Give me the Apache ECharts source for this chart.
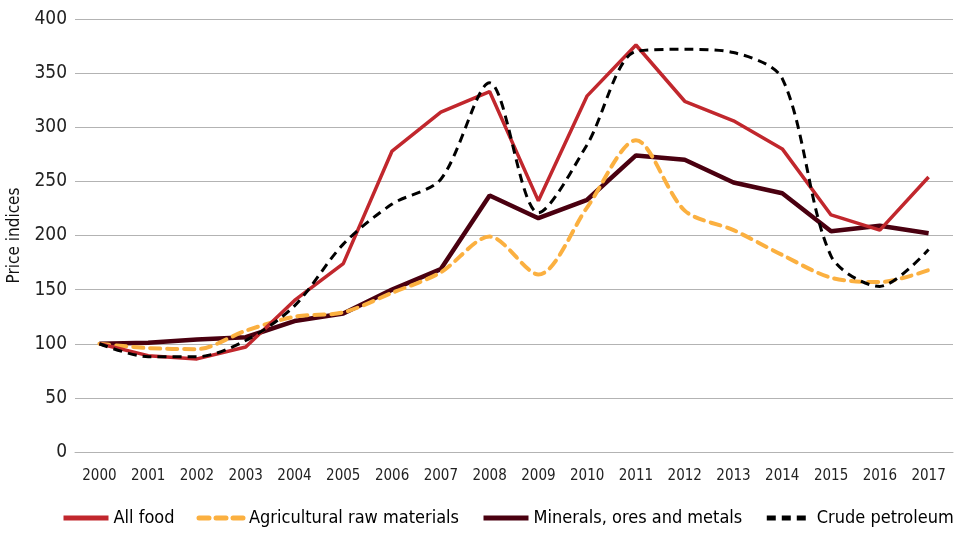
<!DOCTYPE html>
<html>
<head>
<meta charset="utf-8">
<script src="https://cdn.jsdelivr.net/npm/echarts@6/dist/echarts.min.js"></script>
<style>
  html, body { margin: 0; padding: 0; background: #fff; }
  #chart { width: 963px; height: 534px; }
</style>
</head>
<body>
<div id="chart"></div>
<script>
// years on the x axis
var years = ['2000', '2001', '2002', '2003', '2004', '2005', '2006', '2007', '2008',
  '2009', '2010', '2011', '2012', '2013', '2014', '2015', '2016', '2017']

// price indices, 2000 = 100
var allFood = [100, 89, 86, 97, 140, 174, 278, 314, 333, 232, 329, 376, 324, 306, 280, 219, 205, 254]
var agriRaw = [100, 96, 95, 112, 125, 129, 147, 166, 199, 164, 226, 288, 223, 205, 182, 161, 157, 168]
var minerals = [100, 101, 104, 106, 121, 128, 150, 169, 237, 216, 233, 274, 270, 249, 239, 204, 209, 202]
var crude = [100, 88, 88, 103, 135, 192, 229, 252, 341, 221, 284, 370, 372, 369, 345, 181, 153, 187]

var font = '"Liberation Sans Narrow", "DejaVu Sans Condensed", Arial, sans-serif'

var myChart = echarts.init(document.getElementById('chart'))
var option = {
  animation: false,
  textStyle: { fontFamily: font },
  grid: { left: 75, right: 10, top: 19, bottom: 82, outerBoundsMode: 'none' },
  legend: {
    bottom: 2,
    left: 56,
    right: 0,
    itemWidth: 45,
    itemHeight: 14,
    itemGap: 22,
    itemStyle: { opacity: 0 }, // 只显示线, 不要圆点
    lineStyle: { width: 5 },
    textStyle: { fontFamily: font, fontSize: 18, color: '#000' },
    data: ['All food', 'Agricultural raw materials', 'Minerals, ores and metals', 'Crude petroleum']
  },
  xAxis: {
    type: 'category',
    data: years,
    boundaryGap: true,
    axisLine: { lineStyle: { color: '#b3b3b3', width: 1 } },
    axisTick: { show: false },
    axisLabel: { fontFamily: font, fontSize: 15, color: '#222', margin: 17, interval: 0 }
  },
  yAxis: {
    type: 'value',
    min: 0,
    max: 400,
    interval: 50,
    name: 'Price indices',
    nameLocation: 'middle',
    nameGap: 50,
    nameTextStyle: { fontFamily: font, fontSize: 17, color: '#111' },
    axisLine: { show: false },
    axisTick: { show: false },
    axisLabel: { fontFamily: font, fontSize: 19, color: '#222', margin: 8 },
    splitLine: { lineStyle: { color: '#b3b3b3', width: 1 } }
  },
  series: [
    {
      name: 'All food',
      type: 'line',
      data: allFood,
      symbol: 'none',
      z: 4,
      itemStyle: { color: '#c1272d' },
      lineStyle: { color: '#c1272d', width: 3.5 }
    },
    {
      name: 'Agricultural raw materials',
      type: 'line',
      data: agriRaw,
      symbol: 'none',
      smooth: 0.3,
      z: 3,
      itemStyle: { color: '#fbb040' },
      lineStyle: { color: '#fbb040', width: 4, type: [10, 7], cap: 'round' }
    },
    {
      name: 'Minerals, ores and metals',
      type: 'line',
      data: minerals,
      symbol: 'none',
      z: 2,
      itemStyle: { color: '#4a0010' },
      lineStyle: { color: '#4a0010', width: 4.5 }
    },
    {
      name: 'Crude petroleum',
      type: 'line',
      data: crude,
      symbol: 'none',
      smooth: 0.3,
      z: 5,
      itemStyle: { color: '#000' },
      lineStyle: { color: '#000', width: 3, type: [9, 6] }
    }
  ]
}
myChart.setOption(option)
window.addEventListener('resize', () => {
  myChart.resize()
})
</script>
</body>
</html>
